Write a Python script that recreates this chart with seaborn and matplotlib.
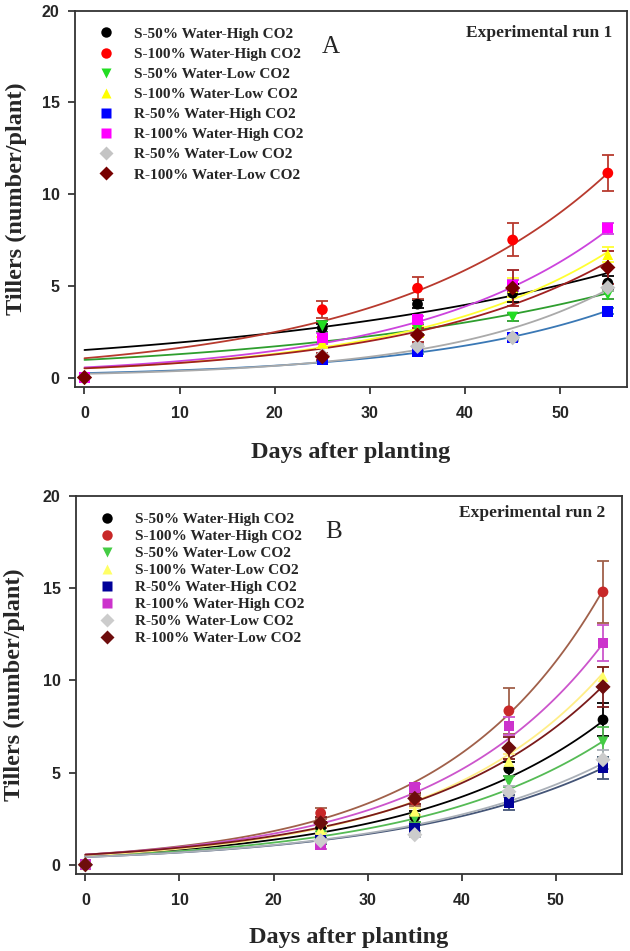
import numpy as np
import pandas as pd
import matplotlib.pyplot as plt
import seaborn as sns
from matplotlib.lines import Line2D

# Days and treatments
days = [0, 25, 35, 45, 55]
labels = ['S-50% Water-High CO2', 'S-100% Water-High CO2', 'S-50% Water-Low CO2',
          'S-100% Water-Low CO2', 'R-50% Water-High CO2', 'R-100% Water-High CO2',
          'R-50% Water-Low CO2', 'R-100% Water-Low CO2']
markers = ['o', 'o', 'v', '^', 's', 's', 'D', 'D']

# Experimental run 1 (panel A): means and errors
run1_s50_high = [0, 2.7, 4.0, 4.6, 5.15]
run1_s100_high = [0, 3.7, 4.87, 7.5, 11.15]
run1_s50_low = [0, 2.8, 2.6, 3.3, 4.5]
run1_s100_low = [0, 1.9, 2.5, 4.9, 6.7]
run1_r50_high = [0, 1.0, 1.4, 2.17, 3.62]
run1_r100_high = [0, 2.15, 3.15, 5.0, 8.15]
run1_r50_low = [0, 1.2, 1.7, 2.17, 4.9]
run1_r100_low = [0, 1.13, 2.32, 4.88, 6.0]
run1_err = [[0, 0.2, 0.2, 0.5, 0.4], [0, 0.45, 0.6, 0.9, 1.0], [0, 0.3, 0.25, 0.2, 0.2],
            [0, 0.3, 0.3, 0.5, 0.4], [0, 0.1, 0.1, 0.15, 0.15], [0, 0.3, 0.2, 0.3, 0.3],
            [0, 0.1, 0.15, 0.2, 0.2], [0, 0.2, 0.4, 1.0, 0.9]]
# fitted exponential curves: value at day 0 and day 55
run1_fit_start = [1.5, 1.05, 0.96, 0.5, 0.24, 0.55, 0.2, 0.5]
run1_fit_end = [5.7, 11.15, 4.6, 6.85, 3.65, 8.05, 4.8, 6.3]

# Experimental run 2 (panel B)
run2_s50_high = [0, 2.0, 2.6, 5.2, 7.86]
run2_s100_high = [0, 2.8, 3.5, 8.35, 14.8]
run2_s50_low = [0, 1.6, 2.5, 4.5, 6.67]
run2_s100_low = [0, 1.9, 2.9, 5.6, 10.2]
run2_r50_high = [0, 1.3, 2.0, 3.36, 5.26]
run2_r100_high = [0, 1.1, 4.17, 7.53, 12.03]
run2_r50_low = [0, 1.3, 1.63, 3.96, 5.7]
run2_r100_low = [0, 2.27, 3.6, 6.34, 9.65]
run2_err = [[0, 0.3, 0.3, 0.4, 0.9], [0, 0.3, 0.3, 1.25, 1.7], [0, 0.2, 0.2, 0.3, 0.8],
            [0, 0.2, 0.2, 0.4, 0.5], [0, 0.15, 0.15, 0.4, 0.6], [0, 0.25, 0.2, 0.5, 1.0],
            [0, 0.1, 0.15, 0.3, 0.5], [0, 0.3, 0.3, 0.6, 1.1]]
run2_fit_start = [0.5, 0.55, 0.45, 0.5, 0.42, 0.55, 0.42, 0.55]
run2_fit_end = [7.8, 14.9, 6.7, 10.4, 5.25, 12.0, 5.5, 9.7]

run1_means = [run1_s50_high, run1_s100_high, run1_s50_low, run1_s100_low,
              run1_r50_high, run1_r100_high, run1_r50_low, run1_r100_low]
run2_means = [run2_s50_high, run2_s100_high, run2_s50_low, run2_s100_low,
              run2_r50_high, run2_r100_high, run2_r50_low, run2_r100_low]

run1_mcol = ['#000000', '#ff0000', '#22dd22', '#ffff00', '#0000ff', '#ff00ff', '#c4c4c4', '#780000']
run1_lcol = ['#000000', '#b83a2e', '#2e9e2e', '#ffff33', '#3a78b5', '#cc44dd', '#aaaaaa', '#a02020']
run2_mcol = ['#000000', '#c82828', '#44cc44', '#ffff66', '#000099', '#cc33cc', '#cccccc', '#6e0d0d']
run2_lcol = ['#000000', '#a0604a', '#55bb55', '#ffee88', '#445577', '#cc55cc', '#aab0b8', '#7a1a1a']

sns.set_style('ticks')
serif = 'Liberation Serif'
sans = 'Liberation Sans'

fig = plt.figure(figsize=(6.3, 9.51), dpi=100)
axA = fig.add_axes([0.119, 0.5934, 0.876, 0.3953])
axB = fig.add_axes([0.1206, 0.081, 0.8664, 0.3974])


def draw_panel(ax, means, errs, fstart, fend, mcol, lcol, letter, run_text, leg_spacing,
               letter_pos, run_pos, xlab_y, ylab_x):
    # fitted curves
    xs = np.linspace(0, 55, 120)
    curves = []
    for lab, a, e in zip(labels, fstart, fend):
        b = np.log(e / a) / 55
        curves.append(pd.DataFrame({'day': xs, 'val': a * np.exp(b * xs), 'trt': lab}))
    curves = pd.concat(curves)
    sns.lineplot(data=curves, x='day', y='val', hue='trt', palette=dict(zip(labels, lcol)),
                 lw=1.3, legend=False, ax=ax, zorder=2)

    # error bars
    for m, er, c in zip(means, errs, lcol):
        ax.errorbar(days, m, yerr=er, fmt='none', ecolor=c, elinewidth=1.3,
                    capsize=4.5, capthick=1.3, zorder=3)

    pts = pd.DataFrame({'day': days * len(labels),
                        'val': np.concatenate(means),
                        'trt': np.repeat(labels, len(days))})
    sns.scatterplot(data=pts, x='day', y='val', hue='trt', style='trt',
                    palette=dict(zip(labels, mcol)), markers=dict(zip(labels, markers)),
                    s=60, edgecolor='none', legend=False, ax=ax, zorder=4)

    handles = [Line2D([], [], ls='none', marker=mk, color=c, markersize=7.5, mec='none')
               for mk, c in zip(markers, mcol)]
    ax.legend(handles, labels, loc='upper left', bbox_to_anchor=(0.01, 0.985), frameon=False,
              prop={'family': serif, 'weight': 'bold', 'size': 11},
              handletextpad=0.8, labelspacing=leg_spacing, borderaxespad=0.3)

    ax.text(letter_pos[0], letter_pos[1], letter, transform=ax.transAxes, family=serif,
            fontsize=18, ha='center', va='center')
    ax.text(run_pos[0], run_pos[1], run_text, transform=ax.transAxes, family=serif,
            fontsize=12.5, fontweight='bold', ha='right', va='center')

    ax.set_xlim(-1, 57)
    ax.set_ylim(-0.5, 20)
    ax.set_xticks([0, 10, 20, 30, 40, 50])
    ax.set_yticks([0, 5, 10, 15, 20])
    ax.tick_params(direction='out', length=5, width=1.2, top=False, right=False,
                   labelsize=11.5)
    ax.tick_params(axis='x', pad=9)
    ax.tick_params(axis='y', pad=6)
    for t in ax.get_xticklabels() + ax.get_yticklabels():
        t.set_family(sans)
        t.set_fontweight('bold')
    for sp in ax.spines.values():
        sp.set_visible(True)
        sp.set_linewidth(1.3)
        sp.set_color('#333333')
    ax.set_xlabel('Days after planting', family=serif, fontweight='bold', fontsize=17.5,
                  va='center')
    ax.set_ylabel('Tillers (number/plant)', family=serif, fontweight='bold', fontsize=17.5,
                  va='center')
    ax.xaxis.set_label_coords(0.5, xlab_y)
    ax.yaxis.set_label_coords(ylab_x, 0.5)


draw_panel(axA, run1_means, run1_err, run1_fit_start, run1_fit_end, run1_mcol, run1_lcol,
           'A', 'Experimental run 1', 0.42, (0.463, 0.903), (0.973, 0.94), -0.174, -0.107)
draw_panel(axB, run2_means, run2_err, run2_fit_start, run2_fit_end, run2_mcol, run2_lcol,
           'B', 'Experimental run 2', 0.22, (0.472, 0.905), (0.97, 0.955), -0.169, -0.112)

fig.savefig('out.png', dpi=100)
